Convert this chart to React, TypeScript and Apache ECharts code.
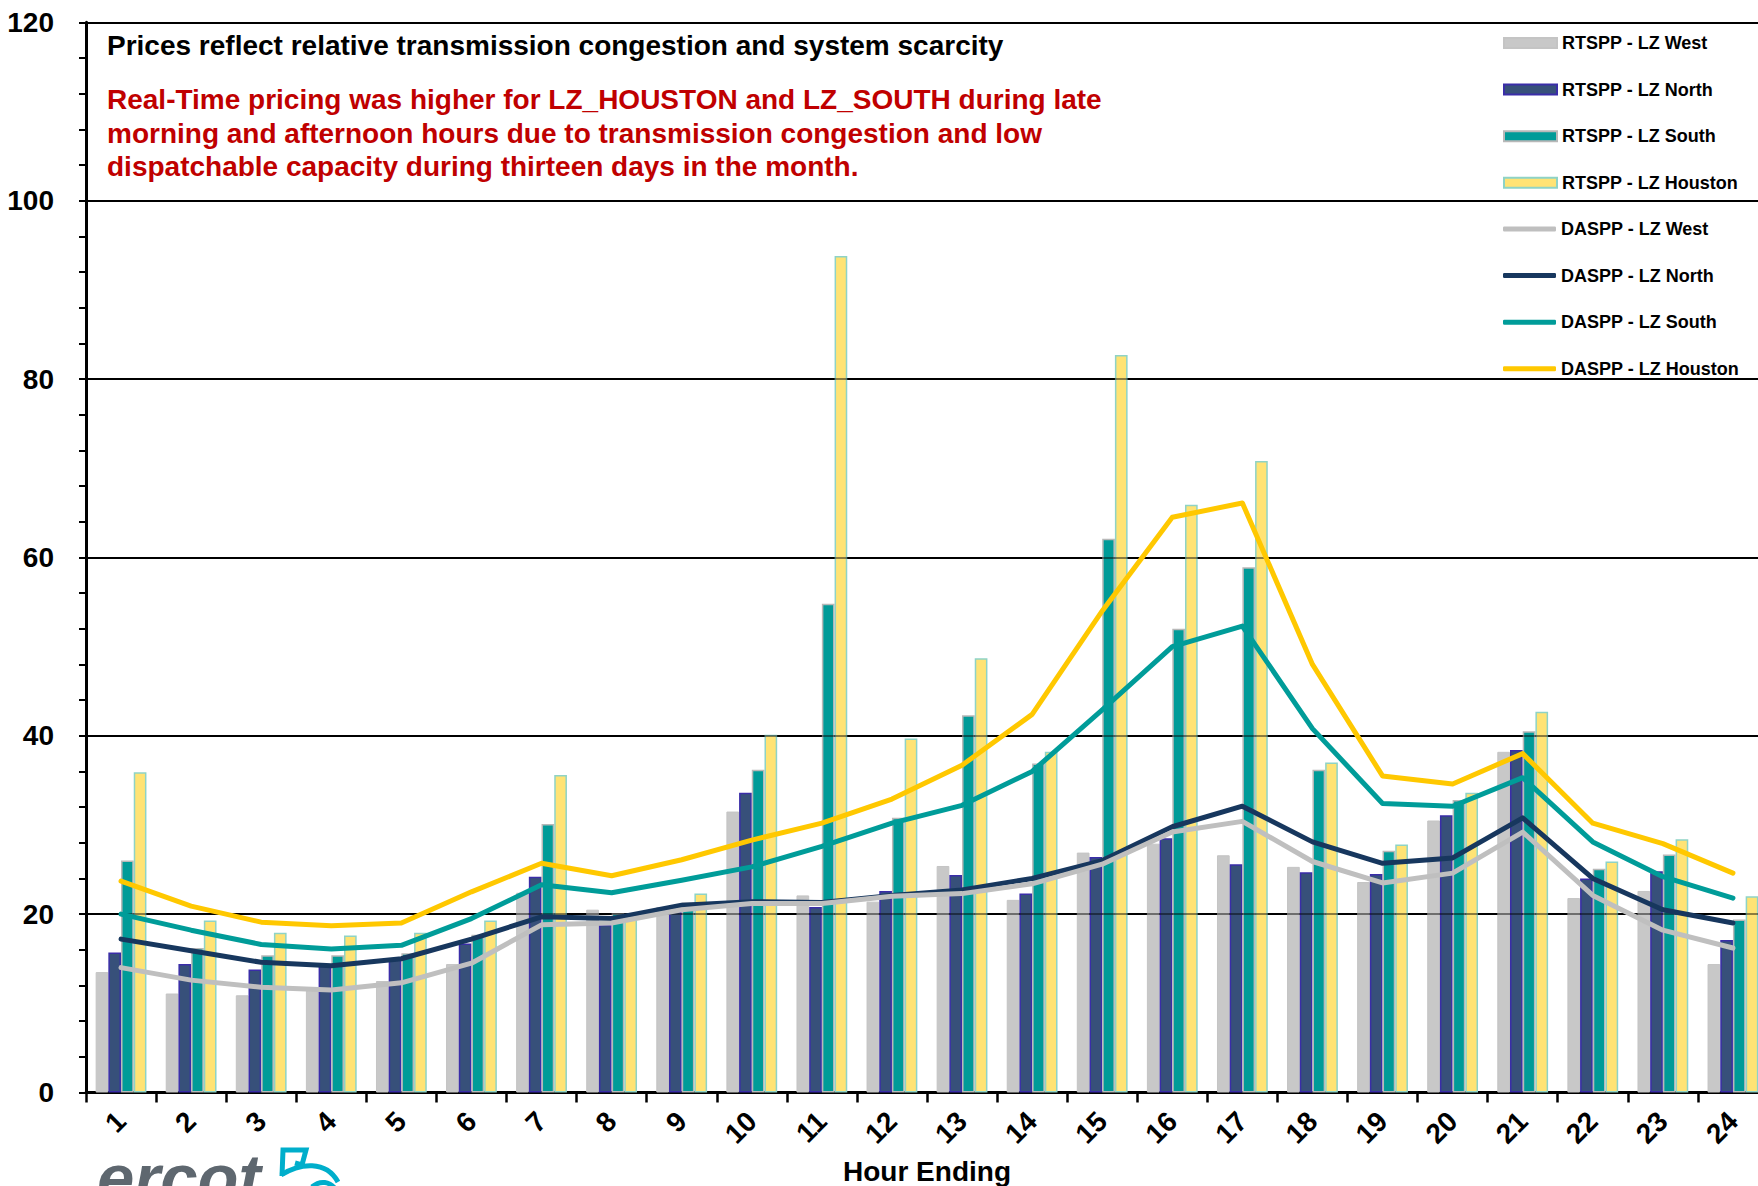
import React, { useEffect, useRef } from 'react';
import * as echarts from 'echarts';

const hours = ['1','2','3','4','5','6','7','8','9','10','11','12','13','14','15','16','17','18','19','20','21','22','23','24'];
const yTicks = [0, 20, 40, 60, 80, 100, 120];

const rtWest = [13.5, 11.1, 10.9, 11.6, 12.5, 14.4, 22.4, 20.5, 20.8, 31.5, 22.1, 21.4, 25.4, 21.6, 26.9, 27.9, 26.6, 25.3, 23.6, 30.5, 38.2, 21.8, 22.6, 14.4];
const rtNorth = [15.7, 14.4, 13.8, 14.2, 15.0, 16.7, 24.2, 18.8, 20.3, 33.6, 20.8, 22.6, 24.4, 22.3, 26.4, 28.5, 25.6, 24.7, 24.5, 31.1, 38.4, 24.0, 24.8, 17.1];
const rtSouth = [26.0, 16.2, 15.4, 15.4, 15.6, 17.7, 30.1, 20.1, 21.3, 36.2, 54.8, 30.8, 42.3, 36.9, 62.1, 52.0, 58.9, 36.2, 27.1, 32.8, 40.5, 25.1, 26.7, 19.4];
const rtHouston = [35.9, 19.3, 17.9, 17.6, 17.9, 19.3, 35.6, 19.5, 22.3, 40.1, 93.8, 39.7, 48.7, 38.2, 82.7, 65.9, 70.8, 37.0, 27.8, 33.6, 42.7, 25.9, 28.4, 22.0];

const daWest = [14.0, 12.6, 11.8, 11.5, 12.3, 14.5, 18.8, 19.0, 20.5, 21.2, 21.2, 22.0, 22.3, 23.4, 25.6, 29.2, 30.4, 25.9, 23.5, 24.6, 29.2, 22.1, 18.2, 16.2];
const daNorth = [17.2, 15.9, 14.6, 14.2, 15.0, 17.2, 19.7, 19.5, 21.0, 21.4, 21.3, 22.1, 22.7, 24.0, 26.0, 29.8, 32.1, 28.1, 25.7, 26.3, 30.8, 24.0, 20.5, 19.0];
const daSouth = [20.0, 18.2, 16.6, 16.1, 16.5, 19.5, 23.3, 22.4, 23.8, 25.3, 27.6, 30.2, 32.2, 36.0, 42.9, 50.0, 52.3, 40.8, 32.4, 32.1, 35.3, 28.1, 24.2, 21.8];
const daHouston = [23.7, 20.9, 19.1, 18.7, 19.0, 22.5, 25.7, 24.3, 26.1, 28.3, 30.2, 32.9, 36.7, 42.4, 54.0, 64.5, 66.1, 48.0, 35.5, 34.6, 38.0, 30.2, 27.9, 24.6];

const rtNames = ['RTSPP - LZ West', 'RTSPP - LZ North', 'RTSPP - LZ South', 'RTSPP - LZ Houston'];
const daNames = ['DASPP - LZ West', 'DASPP - LZ North', 'DASPP - LZ South', 'DASPP - LZ Houston'];

const titleText = 'Prices reflect relative transmission congestion and system scarcity';
const noteText = 'Real-Time pricing was higher for LZ_HOUSTON and LZ_SOUTH during late\nmorning and afternoon hours due to transmission congestion and low\ndispatchable capacity during thirteen days in the month.';

const FONT = "'Liberation Sans', Arial, Helvetica, sans-serif";

export default function App() {
  const ref = useRef<HTMLDivElement>(null);
  useEffect(() => {
    if (!ref.current) return;
    const chart = echarts.init(ref.current, null, { renderer: 'svg' });

    const barBase = { type: 'bar', barWidth: 12.7, barGap: '0%', z: 2 };
    const lineBase = {
      type: 'line', symbol: 'none', smooth: false, z: 6,
    };
    const lineSeries = (name: string, data: number[], color: string) => ({
      ...lineBase, name, data,
      itemStyle: { color },
      lineStyle: { color, width: 5, cap: 'round', join: 'round' },
    });

    const option: any = {
      animation: false,
      backgroundColor: '#ffffff',
      textStyle: { fontFamily: FONT },
      title: [
        {
          text: titleText, left: 107, top: 29, padding: 0,
          textStyle: { fontFamily: FONT, fontSize: 28, fontWeight: 'bold', color: '#000', lineHeight: 32 },
        },
        {
          text: noteText, left: 107, top: 83, padding: 0,
          textStyle: { fontFamily: FONT, fontSize: 28, fontWeight: 'bold', color: '#C00000', lineHeight: 33.5 },
        },
      ],
      legend: [
        {
          data: rtNames, orient: 'vertical', left: 1503, top: 33, padding: 0,
          itemWidth: 53, itemHeight: 10, itemGap: 26.6, icon: 'rect', selectedMode: false,
          textStyle: { fontFamily: FONT, fontSize: 18, fontWeight: 'bold', color: '#000', lineHeight: 20 },
        },
        {
          data: daNames, orient: 'vertical', left: 1503, top: 219, padding: 0,
          itemWidth: 53, itemHeight: 5, itemGap: 26.6, icon: 'roundRect', selectedMode: false,
          itemStyle: { borderWidth: 0 },
          textStyle: { fontFamily: FONT, fontSize: 18, fontWeight: 'bold', color: '#000', lineHeight: 20 },
        },
      ],
      grid: { left: 86, top: 22.3, width: 1682, height: 1070.2, containLabel: false, outerBoundsMode: 'none' },
      xAxis: {
        type: 'category', data: hours, boundaryGap: true,
        name: 'Hour Ending', nameLocation: 'middle', nameGap: 65, nameMoveOverlap: false,
        nameTextStyle: { fontFamily: FONT, fontSize: 28, fontWeight: 'bold', color: '#000' },
        axisLine: { show: true, lineStyle: { color: '#000', width: 3 } },
        axisTick: { show: true, alignWithLabel: false, length: 10, lineStyle: { color: '#000', width: 2.5 } },
        axisLabel: { rotate: 45, margin: 24, fontFamily: FONT, fontSize: 28, fontWeight: 'bold', color: '#000', interval: 0, hideOverlap: false },
        splitLine: { show: false },
      },
      yAxis: {
        type: 'value', min: yTicks[0], max: yTicks[yTicks.length - 1], interval: 20,
        axisLine: { show: true, lineStyle: { color: '#000', width: 3 } },
        axisTick: { show: true, length: 7, lineStyle: { color: '#000', width: 2 } },
        minorTick: { show: true, splitNumber: 5, length: 7, lineStyle: { color: '#000', width: 2 } },
        axisLabel: { margin: 32, fontFamily: FONT, fontSize: 28, fontWeight: 'bold', color: '#000' },
        splitLine: { show: true, lineStyle: { color: '#000', width: 2 } },
      },
      series: [
        { ...barBase, name: rtNames[0], data: rtWest, itemStyle: { color: '#C8C8C8', borderColor: '#C4C4C4', borderWidth: 1 } },
        { ...barBase, name: rtNames[1], data: rtNorth, itemStyle: { color: '#37507A', borderColor: '#3A2DA8', borderWidth: 1.5 } },
        { ...barBase, name: rtNames[2], data: rtSouth, itemStyle: { color: '#009B98', borderColor: '#B8B8B8', borderWidth: 1.5 } },
        {
          ...barBase, name: rtNames[3], data: rtHouston,
          itemStyle: { color: '#FFE374', borderColor: '#8ED3C6', borderWidth: 1.5 },
          markLine: {
            silent: true, symbol: 'none', label: { show: false },
            lineStyle: { color: '#000', width: 2, type: 'solid', opacity: 0.45 },
            data: yTicks.slice(1, -1).map((v) => ({ yAxis: v })),
          },
        },
        lineSeries(daNames[3], daHouston, '#FFC800'),
        lineSeries(daNames[2], daSouth, '#009C99'),
        lineSeries(daNames[1], daNorth, '#17375E'),
        lineSeries(daNames[0], daWest, '#BFBFBF'),
      ],
      graphic: [
        {
          type: 'text', z: 10,
          style: {
            text: 'ercot', x: 97, y: 1177, verticalAlign: 'middle',
            font: `italic bold 67px ${FONT}`, fill: '#5E676F',
          },
        },
        {
          type: 'polyline', z: 10,
          shape: { points: [[282, 1176], [283, 1150], [306, 1150], [302, 1165], [295, 1163]] },
          style: { stroke: '#00AECB', lineWidth: 5, fill: 'none', lineJoin: 'miter' },
        },
        {
          type: 'bezierCurve', z: 10,
          shape: { x1: 281, y1: 1175, cpx1: 300, cpy1: 1163, cpx2: 326, cpy2: 1160, x2: 338, y2: 1182 },
          style: { stroke: '#00AECB', lineWidth: 5, fill: 'none' },
        },
        {
          type: 'bezierCurve', z: 10,
          shape: { x1: 312, y1: 1187, cpx1: 320, cpy1: 1180, cpx2: 330, cpy2: 1181, x2: 336, y2: 1190 },
          style: { stroke: '#00AECB', lineWidth: 5, fill: 'none' },
        },
      ],
    };

    chart.setOption(option);
    return () => chart.dispose();
  }, []);

  return (
    <div
      ref={ref}
      style={{ position: 'fixed', left: 0, top: 0, width: '1758px', height: '1186px', background: '#fff' }}
    />
  );
}
